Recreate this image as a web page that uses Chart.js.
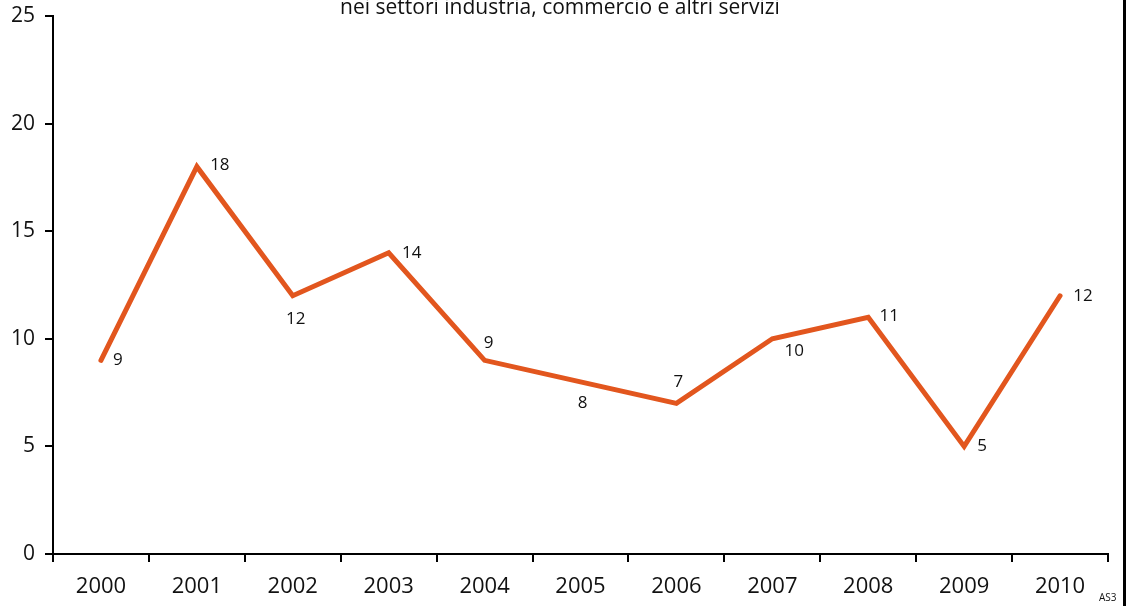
<!DOCTYPE html>
<html>
<head>
<meta charset="utf-8">
<script src="https://cdn.jsdelivr.net/npm/chart.js@4/dist/chart.umd.min.js"></script>
<style>
  html, body { margin: 0; padding: 0; background: #fff; }
  #wrap { width: 1126px; height: 606px; position: relative; }
</style>
</head>
<body>
<div id="wrap"><canvas id="myChart" width="1126" height="606"></canvas></div>
<script>
const years = ['2000', '2001', '2002', '2003', '2004', '2005', '2006', '2007', '2008', '2009', '2010'];
const values = [9, 18, 12, 14, 9, 8, 7, 10, 11, 5, 12];
const yTicks = [0, 5, 10, 15, 20, 25];
const subtitle = 'nei settori industria, commercio e altri servizi';
const sourceCode = 'AS3';

// where each value label sits relative to its point (px)
const labelOffsets = [
    [17, 0], [23, -1], [3, 23], [23, 0], [4, -17], [2, 21],
    [2, -21], [22, 12], [21, -1], [18, 0], [23, 0]
];

const FONT = '"Open Sans", sans-serif';

const extras = {
    id: 'extras',
    afterDatasetsDraw(chart) {
        const ctx = chart.ctx;
        const meta = chart.getDatasetMeta(0);
        ctx.save();
        ctx.fillStyle = '#111';
        ctx.font = '17px ' + FONT;
        ctx.textAlign = 'center';
        ctx.textBaseline = 'middle';
        meta.data.forEach((pt, i) => {
            const [dx, dy] = labelOffsets[i];
            ctx.fillText(String(values[i]), pt.x + dx, pt.y + dy);
        });

        // cut-off title line at the top
        ctx.font = '21px ' + FONT;
        ctx.textBaseline = 'alphabetic';
        ctx.fillText(subtitle, 560, 14);

        // small source code in the corner
        ctx.font = '10px ' + FONT;
        ctx.textAlign = 'left';
        ctx.fillText(sourceCode, 1099, 601);

        // black frame edge on the right
        ctx.fillStyle = '#000';
        ctx.fillRect(1123, 0, 3, chart.height);
        ctx.restore();
    }
};

new Chart(document.getElementById('myChart').getContext('2d'), {
    type: 'line',
    data: {
        labels: years,
        datasets: [{
            data: values,
            borderColor: '#E2561E',
            borderWidth: 5,
            pointRadius: 0,
            tension: 0,
            fill: false,
            borderCapStyle: 'round',
            borderJoinStyle: 'miter'
        }]
    },
    options: {
        responsive: false,
        animation: false,
        layout: { padding: { top: 16, right: 18, left: 0, bottom: 0 } },
        plugins: {
            legend: { display: false },
            tooltip: { enabled: false }
        },
        scales: {
            x: {
                offset: true,
                grid: { offset: true, drawOnChartArea: false, drawTicks: true, tickLength: 8, color: '#000', lineWidth: 2 },
                border: { color: '#000', width: 2 },
                ticks: { color: '#111', font: { family: FONT, size: 22 }, padding: 12, maxRotation: 0 },
                afterFit(scale) { scale.height = 52; }
            },
            y: {
                min: 0,
                max: 25,
                afterBuildTicks(scale) { scale.ticks = yTicks.map(v => ({ value: v })); },
                grid: { drawOnChartArea: false, drawTicks: true, tickLength: 8, color: '#000', lineWidth: 2 },
                border: { color: '#000', width: 2 },
                ticks: { color: '#111', font: { family: FONT, size: 21 }, padding: 10 },
                afterFit(scale) {
                    scale.width = 53;
                    scale.paddingTop = 0;
                    scale.paddingBottom = 0;
                }
            }
        }
    },
    plugins: [extras]
});
</script>
</body>
</html>
